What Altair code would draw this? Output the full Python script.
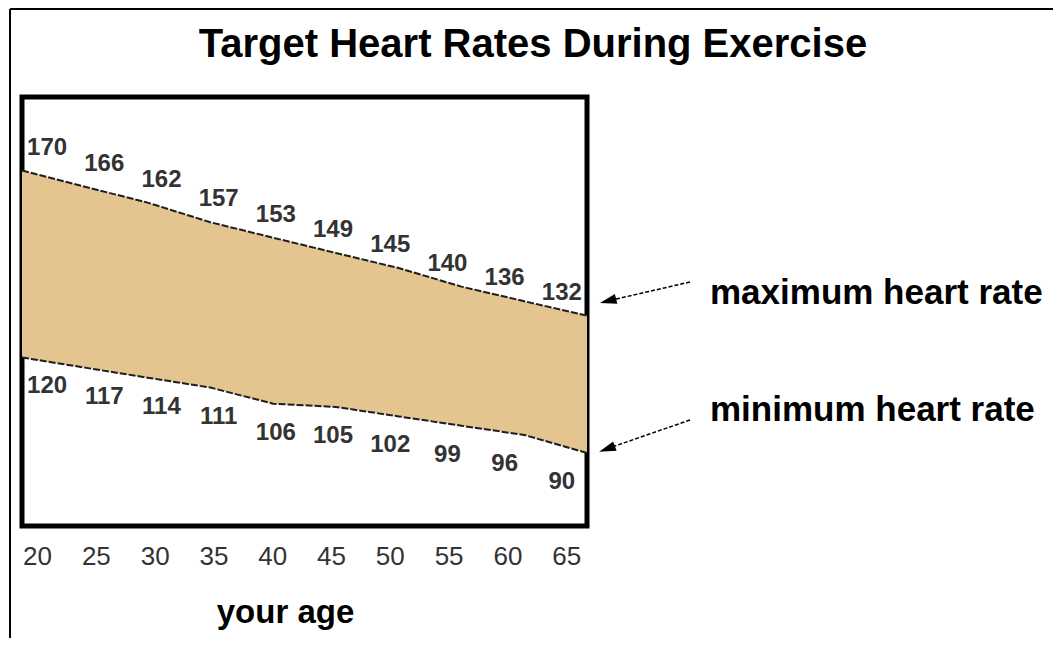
import altair as alt
import pandas as pd

# ---- data ----
ages = [20, 25, 30, 35, 40, 45, 50, 55, 60, 65]
max_rate = [170, 166, 162, 157, 153, 149, 145, 140, 136, 132]
min_rate = [120, 117, 114, 111, 106, 105, 102, 99, 96, 90]
tick_ages = [20, 25, 30, 35, 40, 45, 50, 55, 60, 65]
title_text = "Target Heart Rates During Exercise"
x_title = "your age"
annotation_max = "maximum heart rate"
annotation_min = "minimum heart rate"

df = pd.DataFrame({"age": ages, "max": max_rate, "min": min_rate})
ticks_df = pd.DataFrame({"age": tick_ages})
one = pd.DataFrame({"k": [0]})

FONT = "Liberation Sans"
W, H = 565, 429
PAD = {"left": 14, "top": 89, "right": 466, "bottom": 112}

# the drawing is not to scale: a power scale follows it best
y_scale = alt.Scale(type="pow", exponent=1.5, domain=[63.1, 187.7], nice=False, zero=False)
band_x = alt.Scale(domain=[20, 65], nice=False, zero=False)
label_x = alt.Scale(domain=[17.81, 67.2], nice=False, zero=False)
axis_x = alt.Scale(domain=[18.72, 66.77], nice=False, zero=False)

# ---- band (area between max and min) ----
bx = alt.X("age:Q", scale=band_x, axis=None)
band = alt.Chart(df).mark_area(color="#E4C48F", opacity=1).encode(
    x=bx,
    y=alt.Y("max:Q", scale=y_scale, axis=None),
    y2="min:Q",
)
line_max = alt.Chart(df).mark_line(color="#1e1e1e", strokeWidth=2, strokeDash=[7, 2]).encode(
    x=bx, y=alt.Y("max:Q", scale=y_scale, axis=None)
)
line_min = alt.Chart(df).mark_line(color="#1e1e1e", strokeWidth=2, strokeDash=[7, 2]).encode(
    x=bx, y=alt.Y("min:Q", scale=y_scale, axis=None)
)
band_group = alt.layer(band, line_max, line_min)

# ---- value labels along both edges ----
lx = alt.X("age:Q", scale=label_x, axis=None)
max_labels = alt.Chart(df).mark_text(
    font=FONT, fontSize=24, fontWeight="bold", color="#333333", dy=-23, baseline="middle"
).encode(x=lx, y=alt.Y("max:Q", scale=y_scale, axis=None), text="max:Q")
min_labels = alt.Chart(df).mark_text(
    font=FONT, fontSize=24, fontWeight="bold", color="#333333", dy=29, baseline="middle"
).encode(x=lx, y=alt.Y("min:Q", scale=y_scale, axis=None), text="min:Q")
label_group = alt.layer(max_labels, min_labels)

# ---- age axis ----
age_axis = alt.Axis(
    values=tick_ages, title=x_title, format="d",
    ticks=False, tickSize=0, domain=False, grid=False,
    labelFont=FONT, labelFontSize=26, labelColor="#333333",
    labelPadding=30, labelBaseline="middle", labelFlush=False, labelOverlap=False,
    titleFont=FONT, titleFontSize=33, titleFontWeight="bold", titleColor="black",
    titleX=263, titleY=86, titleAlign="center", titleBaseline="middle",
)
axis_layer = alt.Chart(ticks_df).mark_point(opacity=0).encode(
    x=alt.X("age:Q", scale=axis_x, axis=age_axis)
)

# ---- annotations (arrows + text) ----
def arrow(x1, y1, x2, y2, hx, hy, ang):
    shaft = alt.Chart(one).mark_rule(color="black", strokeWidth=1.5, strokeDash=[4, 2]).encode(
        x=alt.value(x1), y=alt.value(y1), x2=alt.value(x2), y2=alt.value(y2)
    )
    head = alt.Chart(one).mark_point(
        shape="M -1 0 L 1 -0.6 L 1 0.6 Z", filled=True, color="black", opacity=1,
        size=280, angle=ang,
    ).encode(x=alt.value(hx), y=alt.value(hy))
    return shaft + head

arrow_max = arrow(668, 185, 590, 203, 586, 204, 346)
arrow_min = arrow(668, 323, 590, 350, 585, 352, 340)

text_max = alt.Chart(one).mark_text(
    font=FONT, fontSize=35, fontWeight="bold", color="black", align="left", baseline="middle"
).encode(x=alt.value(688), y=alt.value(196), text=alt.value(annotation_max))
text_min = alt.Chart(one).mark_text(
    font=FONT, fontSize=35, fontWeight="bold", color="black", align="left", baseline="middle"
).encode(x=alt.value(688), y=alt.value(313), text=alt.value(annotation_min))

title = alt.Chart(one).mark_text(
    font=FONT, fontSize=40, fontWeight="bold", color="black", align="center", baseline="middle"
).encode(x=alt.value(511), y=alt.value(-52), text=alt.value(title_text))

# outer frame (left and top edges, as in the cropped reference)
frame_left = alt.Chart(one).mark_rule(color="black", strokeWidth=2).encode(
    x=alt.value(-12), y=alt.value(-88), y2=alt.value(541)
)
frame_top = alt.Chart(one).mark_rule(color="black", strokeWidth=2).encode(
    x=alt.value(-12), x2=alt.value(1031), y=alt.value(-88)
)

chart = alt.layer(
    band_group, label_group, axis_layer,
    arrow_max, arrow_min, text_max, text_min, title, frame_left, frame_top
).resolve_scale(x="independent").properties(
    width=W, height=H,
    autosize=alt.AutoSizeParams(type="none"),
    padding=PAD,
    background="white",
).configure_view(stroke="black", strokeWidth=5)

chart.save("out.html", embed_options={"renderer": "svg", "actions": False})
